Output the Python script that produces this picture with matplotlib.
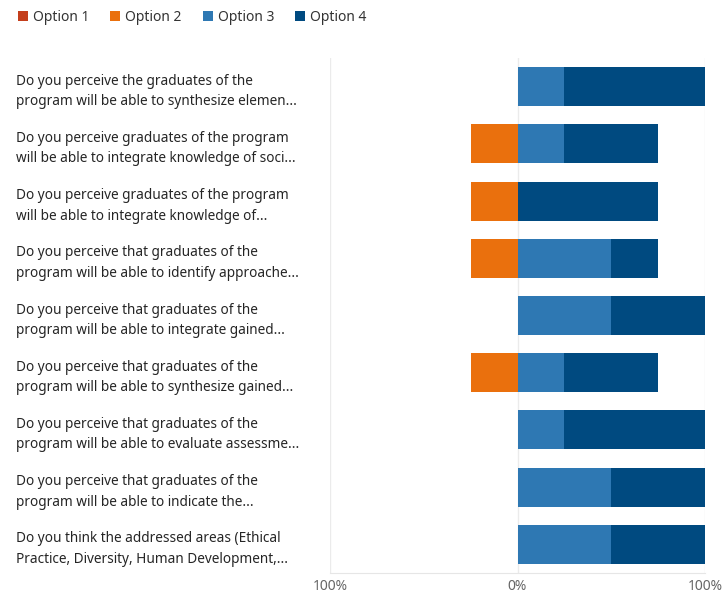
import matplotlib
matplotlib.use("Agg")
import matplotlib.pyplot as plt
from matplotlib.patches import Patch
import numpy as np

plt.rcParams['font.family'] = ['Noto Sans', 'DejaVu Sans']

questions = [
    "Do you perceive the graduates of the\nprogram will be able to synthesize elemen...",
    "Do you perceive graduates of the program\nwill be able to integrate knowledge of soci...",
    "Do you perceive graduates of the program\nwill be able to integrate knowledge of...",
    "Do you perceive that graduates of the\nprogram will be able to identify approache...",
    "Do you perceive that graduates of the\nprogram will be able to integrate gained...",
    "Do you perceive that graduates of the\nprogram will be able to synthesize gained...",
    "Do you perceive that graduates of the\nprogram will be able to evaluate assessme...",
    "Do you perceive that graduates of the\nprogram will be able to indicate the...",
    "Do you think the addressed areas (Ethical\nPractice, Diversity, Human Development,...",
]
series_names = ["Option 1", "Option 2", "Option 3", "Option 4"]
# shares in percent; Options 1-2 sit left of zero, Options 3-4 right of zero
option1 = [0, 0, 0, 0, 0, 0, 0, 0, 0]
option2 = [0, 25, 25, 25, 0, 25, 0, 0, 0]
option3 = [25, 25, 0, 50, 50, 25, 25, 50, 50]
option4 = [75, 50, 75, 25, 50, 50, 75, 50, 50]
xtick_vals = [-100, 0, 100]
xtick_labels = ["100%", "0%", "100%"]

colors = ["#C43E1C", "#EA700D", "#2E78B3", "#004A80"]

fig = plt.figure(figsize=(7.22, 5.94), dpi=100)
ax = fig.add_axes([330 / 722, 1 - 573 / 594, (705 - 330) / 722, (573 - 58) / 594])

y = np.arange(len(questions))
h = 0.68
o1 = np.array(option1, float)
o2 = np.array(option2, float)
o3 = np.array(option3, float)
o4 = np.array(option4, float)

ax.barh(y, -o2, left=0, height=h, color=colors[1], linewidth=0)
ax.barh(y, -o1, left=-o2, height=h, color=colors[0], linewidth=0)
ax.barh(y, o3, left=0, height=h, color=colors[2], linewidth=0)
ax.barh(y, o4, left=o3, height=h, color=colors[3], linewidth=0)

ax.set_xlim(-100, 100)
ax.set_ylim(len(questions) - 0.5, -0.5)
ax.set_xticks(xtick_vals)
ax.set_xticklabels(xtick_labels, color="#666666", fontsize=10)
ax.tick_params(axis='x', length=0, pad=4)
for v in xtick_vals:
    ax.axvline(v, color="#EBEBEB", linewidth=1, zorder=0)

ax.set_yticks(y)
ax.set_yticklabels(questions, fontsize=9.8, color="#252525", ha='left', linespacing=1.5)
ax.tick_params(axis='y', length=0, pad=(330 - 16) * 72 / 100)

for s in ["top", "right", "left"]:
    ax.spines[s].set_visible(False)
ax.spines["bottom"].set_color("#E6E6E6")

handles = [Patch(facecolor=c, edgecolor='none') for c in colors]
fig.legend(handles, series_names, loc='upper left', bbox_to_anchor=(0.007, 1.005), ncol=4,
           frameon=False, fontsize=10, handlelength=0.75, handleheight=0.75,
           handletextpad=0.35, columnspacing=1.5, labelcolor="#333333")

fig.savefig("out.png", dpi=100)
